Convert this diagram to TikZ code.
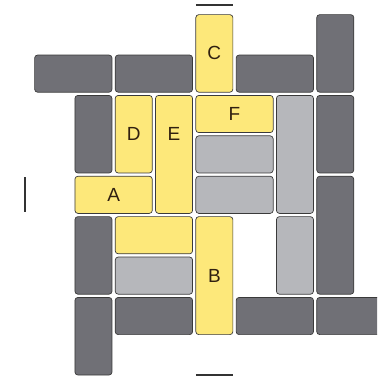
\documentclass[tikz,border=0pt]{standalone}
\usepackage{fontspec}
\setmainfont{Liberation Sans}
\usetikzlibrary{calc}

\definecolor{darkcar}{RGB}{112,112,118}
\definecolor{lightcar}{RGB}{182,183,187}
\definecolor{goldcar}{RGB}{253,232,122}
\definecolor{rimline}{RGB}{58,58,58}

\tikzset{
  car/.style={draw=rimline, line width=0.7pt, rounded corners=3pt},
  darkcar/.style={car, fill=darkcar},
  lightcar/.style={car, fill=lightcar},
  goldcar/.style={car, fill=goldcar},
  tag/.style={font=\fontsize{19}{20}\selectfont, text=black!75!brown},
  gate/.style={line width=1.6pt, draw=black!80}
}

\begin{document}
\begin{tikzpicture}[x=40.3pt, y=-40.4pt]
  \useasboundingbox (-0.819,-0.322) rectangle (8.536,9.059);
  \clip (-0.819,-0.322) rectangle (8.536,9.059);
  % blocked cars
  \foreach \c/\r/\w/\h in {0/1/2/1, 2/1/2/1, 5/1/2/1, 7/0/1/2, 1/2/1/2, 7/2/1/2,
      7/4/1/3, 1/5/1/2, 1/7/1/2, 2/7/2/1, 5/7/2/1, 7/7/2/1}
    \draw[darkcar] (\c+0.04,\r+0.04) rectangle (\c+\w-0.04,\r+\h-0.04);
  \foreach \c/\r/\w/\h in {6/2/1/3, 4/3/2/1, 4/4/2/1, 6/5/1/2, 2/6/2/1}
    \draw[lightcar] (\c+0.04,\r+0.04) rectangle (\c+\w-0.04,\r+\h-0.04);
  \foreach \c/\r/\w/\h in {4/0/1/2, 2/2/1/2, 3/2/1/3, 4/2/2/1, 1/4/2/1, 2/5/2/1, 4/5/1/3}
    \draw[goldcar] (\c+0.04,\r+0.04) rectangle (\c+\w-0.04,\r+\h-0.04);
  % labels
  \node[tag] (carC) at (4.5,1) {C};
  \node[tag] (carD) at (2.5,3) {D};
  \node[tag] (carE) at (3.5,3) {E};
  \node[tag] (carF) at (5,2.5) {F};
  \node[tag] (carA) at (2,4.5) {A};
  \node[tag] (carB) at (4.5,6.5) {B};
  % exits
  \draw[gate] (4.04,-0.2) -- (4.96,-0.2);
  \draw[gate] (4.04,8.96) -- (4.96,8.96);
  \draw[gate] (-0.2,4.06) -- (-0.2,4.93);
\end{tikzpicture}
\end{document}
